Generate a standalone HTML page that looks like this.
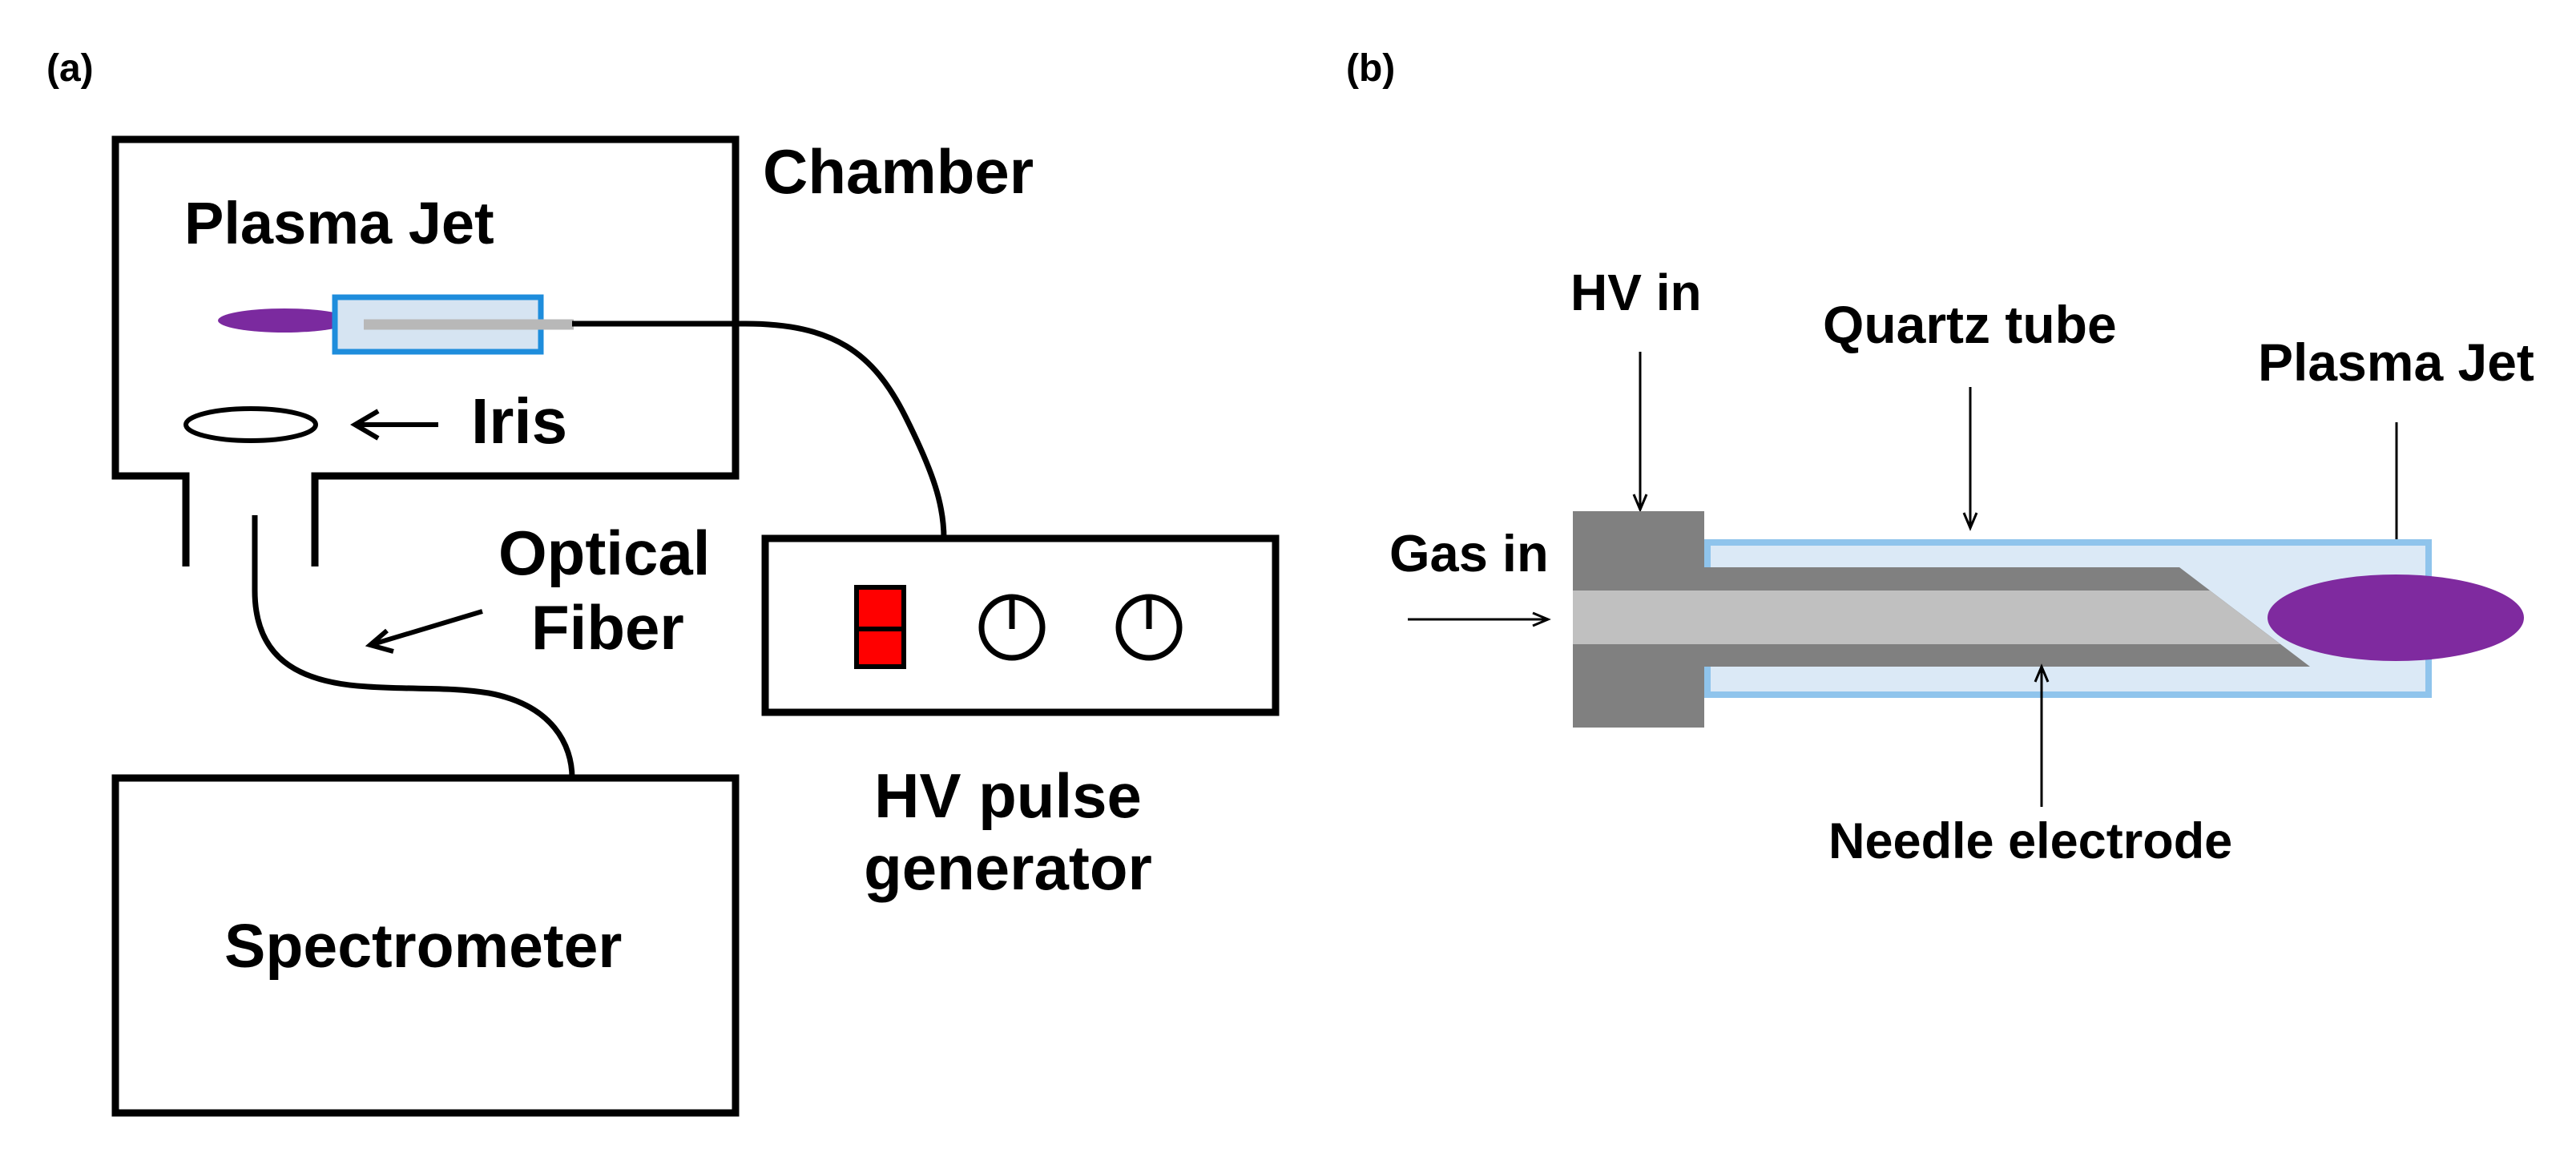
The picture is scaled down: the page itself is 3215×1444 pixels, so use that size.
<!DOCTYPE html>
<html><head><meta charset="utf-8"><style>
html,body{margin:0;padding:0;background:#fff}
svg{display:block}
.a{font-family:"Liberation Sans",sans-serif;font-weight:bold;fill:#000}
</style></head><body>
<svg width="3215" height="1444" viewBox="0 0 3215 1444" xmlns="http://www.w3.org/2000/svg">
<rect width="3215" height="1444" fill="#fff"/>
<!-- (a) -->
<text class="a" x="58" y="101" font-size="48" font-weight="normal">(a)</text>
<path d="M232,707 V594 H144 V174 H918 V594 H393 V707" fill="none" stroke="#000" stroke-width="9"/>
<text class="a" x="952" y="241" font-size="78">Chamber</text>
<text class="a" x="230" y="304" font-size="74">Plasma Jet</text>
<ellipse cx="355" cy="400" rx="83" ry="15" fill="#7b2a9f"/>
<rect x="418" y="371" width="257" height="68" fill="#d6e4f2" stroke="#1e8ddc" stroke-width="7"/>
<line x1="454" y1="405" x2="716" y2="405" stroke="#b8b8b8" stroke-width="13"/>
<path d="M714,404 H930 C1040,404 1090,440 1130,520 C1165,590 1178,630 1178,672" fill="none" stroke="#000" stroke-width="7"/>
<ellipse cx="313" cy="530" rx="81" ry="20" fill="none" stroke="#000" stroke-width="6"/>
<line x1="443" y1="530" x2="547" y2="530" stroke="#000" stroke-width="6"/>
<polyline points="472,513 443,530 472,547" fill="none" stroke="#000" stroke-width="6"/>
<text class="a" x="588" y="553" font-size="80">Iris</text>
<text class="a" x="622" y="717" font-size="78">Optical</text>
<text class="a" x="663" y="810" font-size="78">Fiber</text>
<line x1="602" y1="763" x2="462" y2="805" stroke="#000" stroke-width="6"/>
<polyline points="483,787 462,805 491,813" fill="none" stroke="#000" stroke-width="6"/>
<path d="M318,643 V737 C318,820 370,852 459,857 C520,861 560,857 610,865 C690,880 714,930 714,971" fill="none" stroke="#000" stroke-width="7"/>
<rect x="955" y="672" width="637" height="217" fill="none" stroke="#000" stroke-width="9"/>
<rect x="1069" y="733" width="59" height="99" fill="#f00" stroke="#000" stroke-width="6"/>
<line x1="1069" y1="785" x2="1128" y2="785" stroke="#000" stroke-width="6"/>
<circle cx="1263" cy="783" r="38" fill="none" stroke="#000" stroke-width="7"/>
<line x1="1263" y1="745" x2="1263" y2="785" stroke="#000" stroke-width="7"/>
<circle cx="1434" cy="783" r="38" fill="none" stroke="#000" stroke-width="7"/>
<line x1="1434" y1="745" x2="1434" y2="785" stroke="#000" stroke-width="7"/>
<text class="a" x="1258" y="1020" font-size="78" text-anchor="middle">HV pulse</text>
<text class="a" x="1258" y="1110" font-size="78" text-anchor="middle">generator</text>
<rect x="144" y="971" width="774" height="418" fill="none" stroke="#000" stroke-width="9"/>
<text class="a" x="280" y="1207" font-size="77">Spectrometer</text>
<!-- (b) -->
<text class="a" x="1680" y="101" font-size="48" font-weight="normal">(b)</text>
<text class="a" x="1960" y="387" font-size="64">HV in</text>
<line x1="2047" y1="439" x2="2047" y2="634" stroke="#000" stroke-width="3"/>
<polyline points="2039,617 2047,636 2055,617" fill="none" stroke="#000" stroke-width="3"/>
<text class="a" x="2275" y="428" font-size="66">Quartz tube</text>
<line x1="2459" y1="483" x2="2459" y2="657" stroke="#000" stroke-width="3"/>
<polyline points="2451,640 2459,659 2467,640" fill="none" stroke="#000" stroke-width="3"/>
<text class="a" x="2818" y="475" font-size="66">Plasma Jet</text>
<line x1="2991" y1="527" x2="2991" y2="697" stroke="#000" stroke-width="3"/>
<polyline points="2983,680 2991,699 2999,680" fill="none" stroke="#000" stroke-width="3"/>
<text class="a" x="1734" y="713" font-size="65">Gas in</text>
<line x1="1757" y1="773" x2="1930" y2="773" stroke="#000" stroke-width="3"/>
<polyline points="1913,765 1932,773 1913,781" fill="none" stroke="#000" stroke-width="3"/>
<rect x="2131" y="677" width="900" height="190" fill="#dbe9f6" stroke="#8fc4ec" stroke-width="8"/>
<polygon points="1963,708 2720,708 2883,832 1963,832" fill="#808080"/>
<polygon points="1963,737 2758,737 2846,804 1963,804" fill="#c0c0c0"/>
<rect x="1963" y="638" width="164" height="270" fill="#808080"/>
<rect x="1963" y="737" width="164" height="67" fill="#c0c0c0"/>
<ellipse cx="2990" cy="771" rx="160" ry="54" fill="#7f2a9f"/>
<line x1="2548" y1="1007" x2="2548" y2="834" stroke="#000" stroke-width="3"/>
<polyline points="2540,851 2548,832 2556,851" fill="none" stroke="#000" stroke-width="3"/>
<text class="a" x="2282" y="1071" font-size="63">Needle electrode</text>
</svg>
</body></html>
